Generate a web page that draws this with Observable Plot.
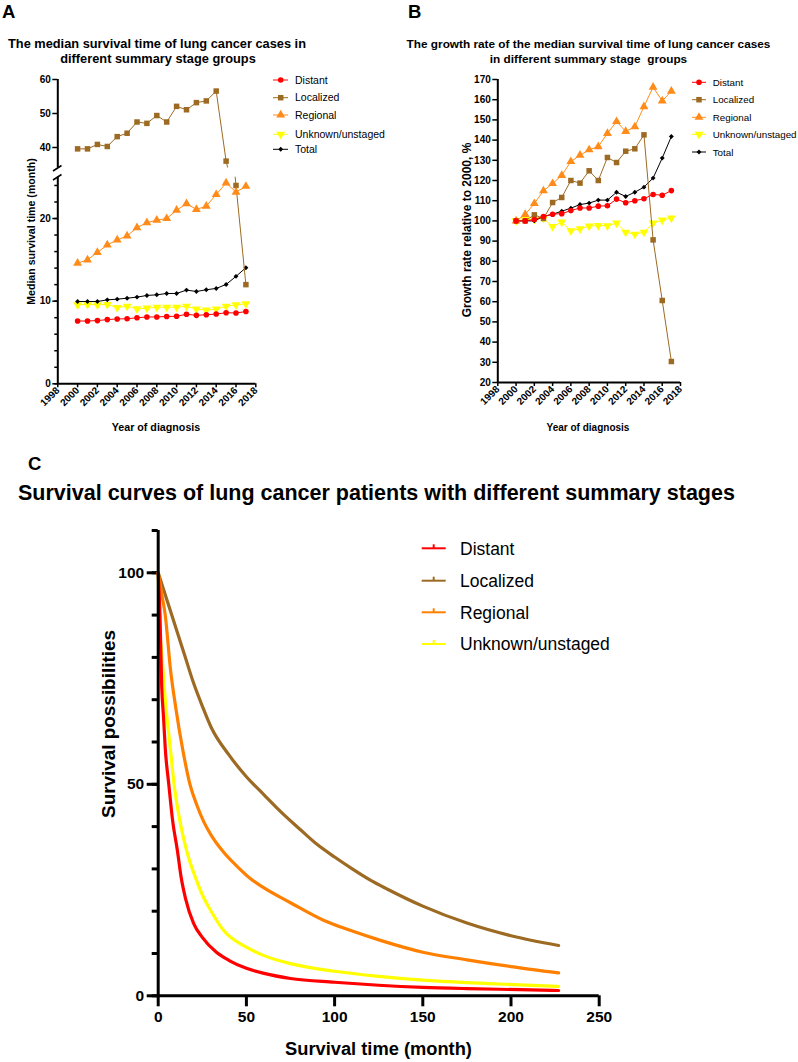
<!DOCTYPE html>
<html><head><meta charset="utf-8">
<script src="https://cdn.jsdelivr.net/npm/d3@7"></script>
<script src="https://cdn.jsdelivr.net/npm/@observablehq/plot@0.6"></script>
<style>
html,body{margin:0;padding:0;background:#fff;}
#root{position:relative;width:798px;height:1062px;overflow:hidden;background:#fff;font-family:"Liberation Sans",Arial,Helvetica,sans-serif;}
#root svg{position:absolute;overflow:visible;}
#root text{white-space:pre;}
</style></head><body><div id="root"></div>
<script>
const FONT = '"Liberation Sans", Arial, Helvetica, sans-serif';

// ---------- Data: panels A & B ----------
const years = [2000,2001,2002,2003,2004,2005,2006,2007,2008,2009,2010,2011,2012,2013,2014,2015,2016,2017];
const yearTicks = [1998,2000,2002,2004,2006,2008,2010,2012,2014,2016,2018];
const stageNames = ["Distant","Localized","Regional","Unknown/unstaged","Total"];

const medDistant   = [7.6,7.6,7.65,7.77,7.85,7.87,7.99,8.09,8.09,8.15,8.17,8.42,8.28,8.36,8.44,8.6,8.57,8.74];
const medLocalized = [39.6,39.6,40.9,40.3,43.2,44.2,47.5,47.1,49.4,47.5,52.1,51.1,53.2,53.7,56.6,36.0,24.0,12.0];
const medRegional  = [14.6,15.0,15.9,16.8,17.4,17.9,18.9,19.5,19.8,20.0,21.0,21.8,21.1,21.5,22.9,24.3,23.2,23.9];
const medUnknown   = [9.55,9.6,9.55,9.6,9.23,9.39,9.07,9.15,9.27,9.27,9.27,9.39,9.03,8.91,9.03,9.39,9.55,9.68];
const medTotal     = [9.96,9.96,9.96,10.16,10.24,10.36,10.49,10.69,10.77,10.93,10.93,11.34,11.17,11.38,11.54,12.02,13.0,14.05];

const growDistant   = [100,100,100.7,102.2,103.3,103.6,105.1,106.4,106.4,107.3,107.5,110.8,109.0,110.0,111.0,113.1,112.7,115.0];
const growLocalized = [100,100,103.0,101.2,109.1,111.6,120.0,118.7,124.8,120.0,131.4,128.9,134.5,135.7,142.6,90.6,60.6,30.4];
const growRegional  = [100,103.2,108.6,114.9,118.5,122.5,129.4,132.5,135.2,136.8,143.3,149.2,144.3,146.6,156.6,166.2,159.4,164.2];
const growUnknown   = [100,100.7,100.7,101.2,97.2,99.4,95.1,96.1,97.4,97.7,97.6,98.9,94.4,93.4,94.4,98.9,100.4,101.4];
const growTotal     = [100,100,100,102.2,103.3,104.8,106.3,108.1,108.8,110.3,110.3,114.2,112.1,114.2,116.7,121.2,131.1,141.8];

const aUpperTicks = [40,50,60];
const aLowerTicks = [0,10,20];
const aMinorTicks = [0,2,4,6,8,10,12,14,16,18,20,22,24];
const bTicks = [20,30,40,50,60,70,80,90,100,110,120,130,140,150,160,170];

// ---------- Data: panel C (Kaplan-Meier) ----------
const kmNames = ["Distant","Localized","Regional","Unknown/unstaged"];
const kmDistantMonths = [0,1,2,3,4,6,8,11,13,15.5,20,25,33,40,50,60,75,100,125,150,175,205,227];
const kmDistantPct    = [100,90,73,66,58.5,50,42,34,28,23,17.2,13.8,10.3,8.4,6.5,5.3,4.1,3.2,2.5,2.0,1.7,1.45,1.25];
const kmLocalizedMonths = [0,5,10,15,20,25,30,40,50,60,70,80,90,100,110,120,130,150,175,200,227];
const kmLocalizedPct    = [100,93.5,87,80.5,74,68.5,63.5,57,51.8,47.5,43.3,39.5,35.8,32.8,30,27.4,25.2,21.2,17.2,14.2,11.9];
const kmRegionalMonths = [0,2,4,7,10,14,18,22,26,30,37,45,52,60,75,94,110,126,150,175,200,227];
const kmRegionalPct    = [100,95,90,77,68,58,50,45,41,38,34,30.5,27.8,25.5,22,17.8,15.3,13.1,10.3,8.5,6.9,5.4];
const kmUnknownMonths = [0,0.5,2,4,7,9,12,16,22,26,30,37,50,60,75,100,125,150,175,205,227];
const kmUnknownPct    = [100,90,81,70,58,50,42,34.5,27,23,20,15.5,11.5,9.5,7.6,5.8,4.6,3.7,3.1,2.6,2.2];
const cYTicks = [0,50,100];
const cYMinor = [0,10,20,30,40,50,60,70,80,90,100,110];
const cXTicks = [0,50,100,150,200,250];

// ---------- Styles ----------
const stageColors = ["#ff0000","#9c6a22","#ff8c1a","#ffff00","#000000"];
const kmColors = ["#ff0000","#9c6a22","#ff8000","#ffff00"];
const triangleDown = {draw(context, size){
  const a = Math.sqrt(size*4/Math.sqrt(3)); const h = a*Math.sqrt(3)/2;
  context.moveTo(0, 2*h/3); context.lineTo(-a/2, -h/3); context.lineTo(a/2, -h/3); context.closePath();
}};
const stageSymbols = ["circle","square","triangle",triangleDown,"diamond2"];
const d3Symbols = [d3.symbolCircle, d3.symbolSquare, d3.symbolTriangle, triangleDown, d3.symbolDiamond2 || d3.symbolDiamond];
const stageR = [2.8, 3.1, 3.3, 3.3, 2.2];
const drawOrder = [3,4,1,2,0];

const root = document.getElementById("root");
function place(svg, left, top){ svg.style.left = left+"px"; svg.style.top = top+"px"; root.appendChild(svg); }
function baseStyle(fs){ return {fontFamily: FONT, fontWeight: "bold", fontSize: fs+"px", color: "black", background: "transparent", overflow: "visible"}; }
function rows(values){ return years.map((year,i)=>({year, value: values[i]})); }

function seriesMarks(series, filter){
  const marks = [];
  for (const i of drawOrder){
    const data = rows(series[i]);
    marks.push(Plot.line(data, {x:"year", y:"value", stroke: stageColors[i], strokeWidth: 1, clip: true}));
    marks.push(Plot.dot(filter ? data.filter(filter) : data, {x:"year", y:"value", symbol: stageSymbols[i], r: stageR[i], fill: stageColors[i], stroke: "none"}));
  }
  return marks;
}
const medSeries = [medDistant, medLocalized, medRegional, medUnknown, medTotal];
const growSeries = [growDistant, growLocalized, growRegional, growUnknown, growTotal];

// ---------- Panel A (broken axis: two stacked plots) ----------
const aUpper = Plot.plot({
  width: 262, height: 100, marginLeft: 57.3, marginRight: 6.7, marginTop: 9, marginBottom: 2.6,
  x: {domain: [1998, 2018], axis: null}, y: {domain: [34, 60]},
  style: baseStyle(10),
  marks: [
    Plot.axisY({ticks: aUpperTicks, tickSize: 5, tickPadding: 2, label: null, strokeWidth: 1.5}),
    Plot.ruleX([1998], {strokeWidth: 2}),
    ...seriesMarks(medSeries, d => d.value >= 34)
  ]
});
place(aUpper, 0, 70);

const aLower = Plot.plot({
  width: 262, height: 250, marginLeft: 57.3, marginRight: 6.7, marginTop: 6.7, marginBottom: 36.7,
  x: {domain: [1998, 2018]}, y: {domain: [0, 25]},
  style: baseStyle(10),
  marks: [
    Plot.axisX({ticks: yearTicks, tickFormat: "d", tickRotate: -45, tickSize: 4, tickPadding: 1, label: null, strokeWidth: 1.5}),
    Plot.axisY({ticks: aLowerTicks, tickSize: 5, tickPadding: 2, label: null, strokeWidth: 1.5}),
    Plot.axisY({ticks: aMinorTicks, tickSize: 3, tickFormat: () => "", label: null, strokeWidth: 1.5}),
    Plot.ruleX([1998], {strokeWidth: 2}),
    Plot.ruleY([0], {strokeWidth: 2}),
    ...seriesMarks(medSeries, d => d.value <= 25)
  ]
});
place(aLower, 0, 170);

// ---------- Panel B ----------
const bPlot = Plot.plot({
  width: 300, height: 350, marginLeft: 97.3, marginRight: 20, marginTop: 9, marginBottom: 38,
  x: {domain: [1998, 2018]}, y: {domain: [20, 170]},
  style: baseStyle(10),
  marks: [
    Plot.axisX({ticks: yearTicks, tickFormat: "d", tickRotate: -45, tickSize: 4, tickPadding: 1, label: null, strokeWidth: 1.5}),
    Plot.axisY({ticks: bTicks, tickSize: 5, tickPadding: 2, label: null, strokeWidth: 1.5}),
    Plot.ruleX([1998], {strokeWidth: 2}),
    Plot.ruleY([20], {strokeWidth: 2}),
    ...seriesMarks(growSeries, null)
  ]
});
place(bPlot, 400, 70);

// ---------- Panel C ----------
const kmData = [
  [kmDistantMonths, kmDistantPct],
  [kmLocalizedMonths, kmLocalizedPct],
  [kmRegionalMonths, kmRegionalPct],
  [kmUnknownMonths, kmUnknownPct]
];
const kmOrder = [1,2,3,0];
const cPlot = Plot.plot({
  width: 620, height: 542, marginLeft: 157.7, marginRight: 21.3, marginTop: 10, marginBottom: 66.7,
  x: {domain: [0, 250]}, y: {domain: [0, 110]},
  style: baseStyle(15.5),
  marks: [
    Plot.axisY({ticks: cYTicks, tickSize: 11, tickPadding: 3, label: null, strokeWidth: 3}),
    Plot.axisY({ticks: cYMinor, tickSize: 6, tickFormat: () => "", label: null, strokeWidth: 3}),
    Plot.axisX({ticks: cXTicks, tickSize: 11, tickPadding: 4, label: null, strokeWidth: 3}),
    ...kmOrder.map(i => Plot.line(kmData[i][0].map((m,j)=>({month: m, pct: kmData[i][1][j]})),
      {x: "month", y: "pct", stroke: kmColors[i], strokeWidth: 3.2, curve: "monotone-x"})),
    Plot.ruleX([0], {strokeWidth: 3}),
    Plot.ruleY([0], {strokeWidth: 3})
  ]
});
place(cPlot, 0, 520);

// ---------- Overlay: titles, labels, legends ----------
const ov = d3.create("svg").attr("width", 798).attr("height", 1062)
  .style("left","0px").style("top","0px").style("pointer-events","none")
  .attr("font-family", FONT);
function txt(x, y, s, size, weight, anchor, rot){
  const t = ov.append("text").attr("x", rot ? 0 : x).attr("y", rot ? 0 : y).text(s)
    .attr("font-size", size).attr("font-weight", weight).attr("text-anchor", anchor || "start").attr("fill", "black");
  if (rot) t.attr("transform", `translate(${x},${y}) rotate(-90)`);
  return t;
}
txt(2, 18, "A", 18.5, "bold");
txt(408, 18, "B", 18.5, "bold");
txt(28, 470, "C", 18.5, "bold");
txt(157, 48.3, "The median survival time of lung cancer cases in", 12.8, "bold", "middle");
txt(158, 63.3, "different summary stage groups", 12.8, "bold", "middle");
txt(588.5, 48.3, "The growth rate of the median survival time of lung cancer cases", 11.8, "bold", "middle");
txt(588.5, 63.3, "in different summary stage  groups", 11.8, "bold", "middle");
txt(18, 500, "Survival curves of lung cancer patients with different summary stages", 21.5, "bold");
txt(35, 231.5, "Median survival time (month)", 10.6, "bold", "middle", true);
txt(470.5, 230, "Growth rate relative to 2000, %", 12, "bold", "middle", true);
txt(115, 724, "Survival possibilities", 18.9, "bold", "middle", true);
txt(156, 430.7, "Year of diagnosis", 10.7, "bold", "middle");
txt(588, 431, "Year of diagnosis", 10, "bold", "middle");
txt(378.5, 1055, "Survival time (month)", 18.3, "bold", "middle");

// axis break marks
ov.append("path").attr("d", "M53,171 L61.5,165.5 M53,180 L61.5,174.5").attr("stroke", "black").attr("stroke-width", 1.5).attr("fill", "none");

function legendAB(lineX0, lineX1, symX, textX, rowsY, fs){
  stageNames.forEach((name, i) => {
    const y = rowsY[i];
    ov.append("line").attr("x1", lineX0).attr("x2", lineX1).attr("y1", y).attr("y2", y).attr("stroke", stageColors[i]).attr("stroke-width", 1);
    ov.append("path").attr("d", d3.symbol(d3Symbols[i], Math.PI*stageR[i]*stageR[i])()).attr("transform", `translate(${symX},${y})`).attr("fill", stageColors[i]);
    txt(textX, y + fs*0.36, name, fs, "normal");
  });
}
legendAB(273, 288, 280.7, 295, [80, 97.7, 115, 134.3, 149.3], 10.5);
legendAB(692, 706, 699, 712.7, [82.3, 99.7, 117.3, 134.3, 152], 9.8);

[548.3, 580.7, 612.3, 644].forEach((y, i) => {
  ov.append("line").attr("x1", 421.7).attr("x2", 445.7).attr("y1", y).attr("y2", y).attr("stroke", kmColors[i]).attr("stroke-width", 2);
  ov.append("line").attr("x1", 433.7).attr("x2", 433.7).attr("y1", y - 4).attr("y2", y).attr("stroke", kmColors[i]).attr("stroke-width", 2);
  txt(460, y + 6.3, kmNames[i], 17.5, "normal");
});

root.appendChild(ov.node());
</script></body></html>
